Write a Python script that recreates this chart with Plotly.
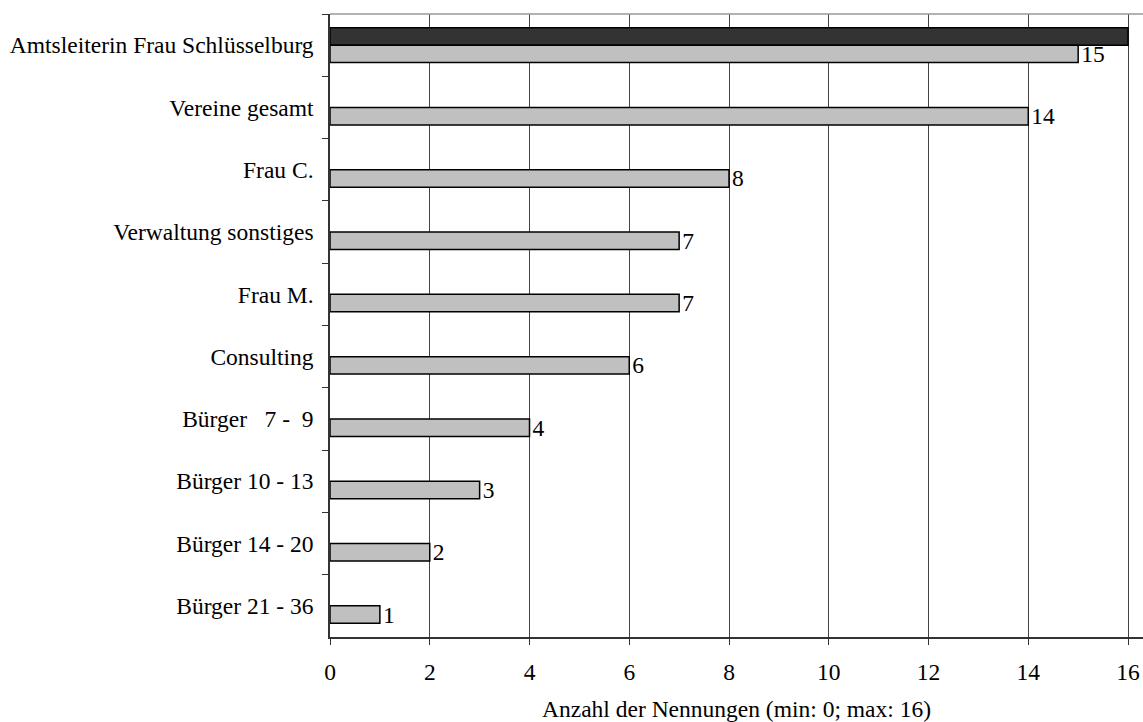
import plotly.graph_objects as go

categories = ["Amtsleiterin Frau Schlüsselburg", "Vereine gesamt", "Frau C.",
              "Verwaltung sonstiges", "Frau M.", "Consulting", "Bürger   7 -  9",
              "Bürger 10 - 13", "Bürger 14 - 20", "Bürger 21 - 36"]
max_values = [16, None, None, None, None, None, None, None, None, None]
counts = [15, 14, 8, 7, 7, 6, 4, 3, 2, 1]
x_ticks = [0, 2, 4, 6, 8, 10, 12, 14, 16]
x_title = "Anzahl der Nennungen (min: 0; max: 16)"

FONT = "Liberation Serif, Times New Roman, serif"
FS = 23.5

fig = go.Figure()
fig.add_trace(go.Bar(
    y=categories, x=max_values, orientation="h",
    marker=dict(color="#333333", line=dict(color="#000000", width=1.5)),
    hoverinfo="x+y", showlegend=False,
))
fig.add_trace(go.Bar(
    y=categories, x=counts, orientation="h",
    marker=dict(color="#c0c0c0", line=dict(color="#000000", width=1.5)),
    text=[str(v) for v in counts], textposition="outside", cliponaxis=False,
    constraintext="none",
    textfont=dict(family=FONT, size=FS, color="#000000"),
    showlegend=False,
))

fig.update_layout(
    width=1143, height=722,
    margin=dict(l=330, r=0, t=14, b=85),
    paper_bgcolor="white", plot_bgcolor="white",
    barmode="group", bargap=0.44, bargroupgap=0,
    font=dict(family=FONT, size=FS, color="#000000"),
    uniformtext=dict(mode=False),
    xaxis=dict(
        range=[0, 16.3], tickvals=x_ticks, ticktext=[str(t) for t in x_ticks],
        showgrid=True, gridcolor="#444444", gridwidth=1,
        showline=True, linecolor="#333333", linewidth=1.5,
        ticks="outside", ticklen=6, tickcolor="#333333",
        ticklabelstandoff=7,
        zeroline=False,
        title=dict(text=x_title, font=dict(family=FONT, size=FS), standoff=17),
    ),
    yaxis=dict(
        autorange="reversed", type="category",
        showline=True, linecolor="#333333", linewidth=1.5,
        ticks="outside", ticklen=6, tickcolor="#333333", tickson="boundaries",
        showgrid=False, ticklabelstandoff=10,
    ),
    shapes=[dict(type="line", xref="paper", yref="paper", x0=0, x1=1, y0=1, y1=1,
                 line=dict(color="#999999", width=1.5))],
)

fig.write_html(
    "out.html",
    config={"displayModeBar": False},
    post_script="document.body.style.margin='0';document.body.style.overflow='hidden';",
)
